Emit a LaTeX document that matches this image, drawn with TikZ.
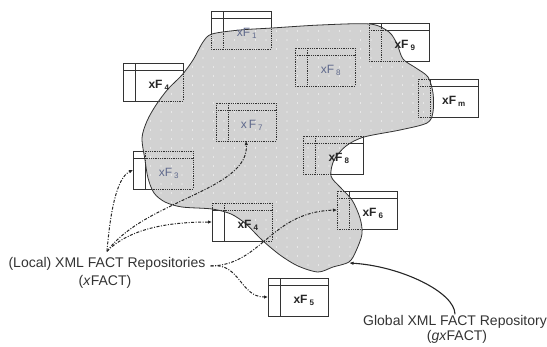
\documentclass[tikz,border=0pt]{standalone}
\usepackage{fontspec}
\setmainfont{Liberation Sans}
\usetikzlibrary{arrows.meta}
\definecolor{blobfill}{RGB}{210,210,210}
\definecolor{inlbl}{RGB}{95,105,140}
\tikzset{
  tbox/.style={minimum width=60pt, minimum height=38pt, inner sep=0pt, outer sep=0pt, anchor=north west},
  solidln/.style={line width=0.9pt, black!80},
  dotln/.style={line width=0.8pt, black!80, densely dotted},
  lblout/.style={font=\fontsize{12}{12}\selectfont\bfseries, text=black!85, inner sep=0pt},
  lblin/.style={font=\fontsize{12}{12}\selectfont, text=inlbl, inner sep=0pt},
  note/.style={font=\fontsize{14}{16}\selectfont, text=black!80, inner sep=1pt},
  dd/.style={line width=1pt, black!85, dash pattern=on 3pt off 1.5pt on 1pt off 1.5pt, -{Latex[length=4pt,width=3.5pt]}},
  gl/.style={line width=1.1pt, black!85, -{Latex[length=4.5pt,width=3.5pt]}},
}
\newcommand\tblines[2]{%
  \draw[#2] (#1.north west) rectangle (#1.south east);
  \draw[#2] ([yshift=-7.5pt]#1.north west) -- ([yshift=-7.5pt]#1.north east);
  \draw[#2] ([xshift=12pt]#1.north west) -- ([xshift=12pt]#1.south west);}
\begin{document}
\begin{tikzpicture}[x=1pt,y=-1pt]
\useasboundingbox (0,0) rectangle (547,346);
% box frames
\node[tbox] (f1)  at (211,11)  {};
\node[tbox] (f4a) at (123,63)  {};
\node[tbox] (f8a) at (295,48)  {};
\node[tbox] (f9)  at (369,23)  {};
\node[tbox] (fm)  at (418,79)  {};
\node[tbox] (f7)  at (216,103) {};
\node[tbox] (f3)  at (133,151) {};
\node[tbox] (f8b) at (303,136) {};
\node[tbox] (f6)  at (337,191) {};
\node[tbox] (f4b) at (212,203) {};
\node[tbox] (f5)  at (268,278) {};
% solid outlines (visible outside the repository)
\foreach \b in {f1,f4a,f8a,f9,fm,f7,f3,f8b,f6,f4b,f5} {\tblines{\b}{solidln}}
% global repository blob
\fill[blobfill] plot[smooth cycle, tension=0.5] coordinates {(203,42) (212,34) (240,30) (272,28) (320,25) (370,24) (389,32) (397,44) (403,59) (416,68) (428,77) (433,93) (433,112) (427,123) (400,130) (364,137) (346,146) (334,160) (331,176) (340,187) (352,200) (360,218) (362,234) (356,251) (349,262) (333,267) (318,272) (298,266) (280,255) (262,240) (246,224) (231,214) (212,209) (182,207) (165,202) (154,193) (148,178) (145,160) (142,138) (147,121) (156,105) (168,89) (182,75) (193,60)};
\begin{scope}
\clip plot[smooth cycle, tension=0.5] coordinates {(203,42) (212,34) (240,30) (272,28) (320,25) (370,24) (389,32) (397,44) (403,59) (416,68) (428,77) (433,93) (433,112) (427,123) (400,130) (364,137) (346,146) (334,160) (331,176) (340,187) (352,200) (360,218) (362,234) (356,251) (349,262) (333,267) (318,272) (298,266) (280,255) (262,240) (246,224) (231,214) (212,209) (182,207) (165,202) (154,193) (148,178) (145,160) (142,138) (147,121) (156,105) (168,89) (182,75) (193,60)};
\foreach \x in {140,150.5,...,440} {\foreach \y in {22,31,...,280} {\fill[white] (\x,\y) circle (0.6pt);}}
\end{scope}
\draw[line width=0.8pt, black!80] plot[smooth cycle, tension=0.5] coordinates {(203,42) (212,34) (240,30) (272,28) (320,25) (370,24) (389,32) (397,44) (403,59) (416,68) (428,77) (433,93) (433,112) (427,123) (400,130) (364,137) (346,146) (334,160) (331,176) (340,187) (352,200) (360,218) (362,234) (356,251) (349,262) (333,267) (318,272) (298,266) (280,255) (262,240) (246,224) (231,214) (212,209) (182,207) (165,202) (154,193) (148,178) (145,160) (142,138) (147,121) (156,105) (168,89) (182,75) (193,60)};
% dotted outlines (visible inside the repository)
\foreach \b in {f1,f4a,f8a,f9,fm,f7,f3,f8b,f6,f4b,f5} {\tblines{\b}{dotln}}
% labels
\node[lblin]  (t1)  at ([xshift=6pt,yshift=-3.75pt]f1.center)  {xF\,\textsubscript{1}};
\node[lblout] (t4a) at ([xshift=6pt,yshift=-3.75pt]f4a.center) {xF\,\textsubscript{4}};
\node[lblin]  (t8a) at ([xshift=6pt,yshift=-3.75pt]f8a.center) {xF\,\textsubscript{8}};
\node[lblout] (t9)  at ([xshift=6pt,yshift=-3.75pt]f9.center)  {xF\,\textsubscript{9}};
\node[lblout] (tm)  at ([xshift=6pt,yshift=-3.75pt]fm.center)  {xF\,\textsubscript{m}};
\node[lblin]  (t7)  at ([xshift=6pt,yshift=-3.75pt]f7.center)  {x\,F\,\textsubscript{7}};
\node[lblin]  (t3)  at ([xshift=6pt,yshift=-3.75pt]f3.center)  {xF\,\textsubscript{3}};
\node[lblout] (t8b) at ([xshift=6pt,yshift=-3.75pt]f8b.center) {xF\,\textsubscript{8}};
\node[lblout] (t6)  at ([xshift=6pt,yshift=-3.75pt]f6.center)  {xF\,\textsubscript{6}};
\node[lblout] (t4b) at ([xshift=6pt,yshift=-3.75pt]f4b.center) {xF\,\textsubscript{4}};
\node[lblout] (t5)  at ([xshift=6pt,yshift=-3.75pt]f5.center)  {xF\,\textsubscript{5}};
% captions
\node[note] (loc) at (107,264) {(Local) XML FACT Repositories};
\node[note] (xf)  at (105,282) {(\textit{x}FACT)};
\node[note] (glb) at (455,322) {Global XML FACT Repository};
\node[note] (gxf) at (457,336.5) {(\textit{gx}FACT)};
\coordinate (o1) at ([yshift=5pt]loc.north);
\coordinate (o2) at ([xshift=4pt,yshift=-2pt]loc.east);
\coordinate (gtip) at (349,263);
% connectors
\draw[dd] (o1) .. controls (110,215) and (116,178) .. (f3.west);
\draw[dd] (o1) .. controls (145,200) and (250,190) .. (f7.south);
\draw[dd] (o1) .. controls (130,228) and (170,222) .. (f4b.west);
\draw[dd] (o2) .. controls (262,265) and (270,212) .. (f6.west);
\draw[dd] (o2) .. controls (240,262) and (240,297) .. (f5.west);
\draw[gl] (glb.north) .. controls (455,292) and (400,266) .. (gtip);
\end{tikzpicture}
\end{document}
